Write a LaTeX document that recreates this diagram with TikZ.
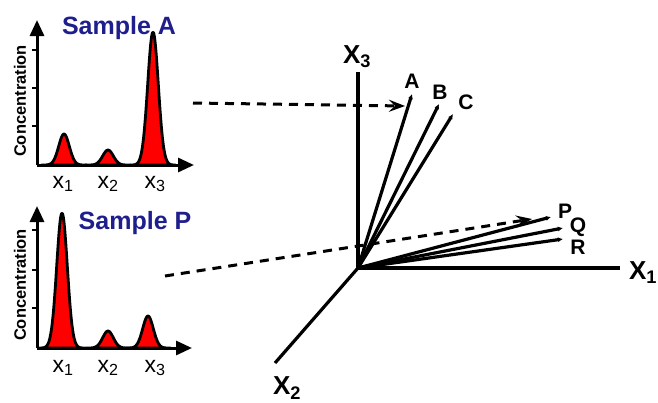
\documentclass[tikz,border=0pt]{standalone}
\usepackage{fontspec}
\setmainfont{Liberation Sans}
\usepackage{tikz}
\usetikzlibrary{arrows.meta}
\usetikzlibrary{positioning}

\definecolor{titleblue}{RGB}{30,30,140}

% one red peak: baseline, centre, height, width
\newcommand{\peak}[4]{%
  \filldraw[fill=red,draw=black,line width=2.8pt,line join=round]
    plot[domain={#2-3*#4}:{#2+3*#4},samples=50,smooth] (\x,{#1-#3*exp(-((\x-#2)/#4)^2)}) -- cycle;
}

\begin{document}
\begin{tikzpicture}[x=1pt,y=-1pt,>=Stealth,
    axis/.style={line width=3pt,-{Triangle[length=16pt,width=14pt]}},
    tick/.style={line width=1.4pt},
    vec/.style={line width=3.2pt,-{Latex[length=5pt,width=5pt]}},
    guide/.style={line width=3pt,dash pattern=on 9pt off 7pt,-{Stealth[length=16pt,width=12pt,inset=6pt]}},
    title/.style={font=\fontsize{25}{25}\selectfont\bfseries,text=titleblue,inner sep=0pt},
    peaklab/.style={font=\fontsize{23}{23}\selectfont,inner sep=0pt},
    conc/.style={font=\fontsize{16.5}{16.5}\selectfont\bfseries,rotate=90,inner sep=0pt},
    axlab/.style={font=\fontsize{26}{26}\selectfont\bfseries,inner sep=0pt},
    veclab/.style={font=\fontsize{21}{21}\selectfont\bfseries,inner sep=0pt}]
  \useasboundingbox (0,0) rectangle (658,402);

  % sample A
  \peak{165}{64}{31}{7.5}
  \peak{165}{108}{15}{7.5}
  \peak{165}{153}{133}{7.5}
  \coordinate (oA) at (37,165);
  \draw[axis] (oA) -- (37,20);
  \draw[axis] (oA) -- (194,165);
  \foreach \t in {50,88,126} \draw[tick] (32,\t) -- (37,\t);
  \node[title] (titleA) at (119,28) {Sample A};
  \node[conc] (concA) at (20,101) {Concentration};
  \node[peaklab] (a1) at (63,184) {x\textsubscript{1}};
  \node[peaklab] (a2) at (108,184) {x\textsubscript{2}};
  \node[peaklab] (a3) at (155,184) {x\textsubscript{3}};

  % sample P
  \peak{348}{62}{135}{7.5}
  \peak{348}{108}{17}{7.5}
  \peak{348}{148}{32}{7.5}
  \coordinate (oP) at (37,348);
  \draw[axis] (oP) -- (37,206);
  \draw[axis] (oP) -- (192,348);
  \foreach \t in {230,270,308} \draw[tick] (32,\t) -- (37,\t);
  \node[title] (titleP) at (135,223) {Sample P};
  \node[conc] (concP) at (20,285) {Concentration};
  \node[peaklab] (p1) at (63,368) {x\textsubscript{1}};
  \node[peaklab] (p2) at (108,368) {x\textsubscript{2}};
  \node[peaklab] (p3) at (155,368) {x\textsubscript{3}};

  % composition space
  \coordinate (O) at (358,268);
  \coordinate (X3end) at (358,72);
  \coordinate (X1end) at (620,268);
  \coordinate (X2end) at (275,363);
  \draw[line width=3.2pt] (O) -- (X3end);
  \draw[line width=3.2pt] (O) -- (X1end);
  \draw[line width=3.2pt] (O) -- (X2end);
  \node[axlab] (X3) at (357,57) {X\textsubscript{3}};
  \node[axlab] (X1) at (643,273) {X\textsubscript{1}};
  \node[axlab] (X2) at (287,388) {X\textsubscript{2}};

  \coordinate (tipA) at (412,94);
  \coordinate (tipB) at (439,104);
  \coordinate (tipC) at (453,114);
  \coordinate (tipP) at (551,217);
  \coordinate (tipQ) at (563,228);
  \coordinate (tipR) at (563,239);
  \foreach \v in {A,B,C,P,Q,R} \draw[vec] (O) -- (tip\v);
  \node[veclab] (labA) at (412,81) {A};
  \node[veclab] (labB) at (440,92) {B};
  \node[veclab] (labC) at (466,102) {C};
  \node[veclab] (labP) at (565,211) {P};
  \node[veclab] (labQ) at (578,227) {Q};
  \node[veclab] (labR) at (578,247) {R};

  % guides from the samples
  \coordinate (fromA) at (193,103);
  \coordinate (toA) at (405,106);
  \coordinate (fromP) at (165,276);
  \coordinate (toP) at (532,219);
  \draw[guide] (fromA) -- (toA);
  \draw[guide] (fromP) -- (toP);
\end{tikzpicture}
\end{document}
